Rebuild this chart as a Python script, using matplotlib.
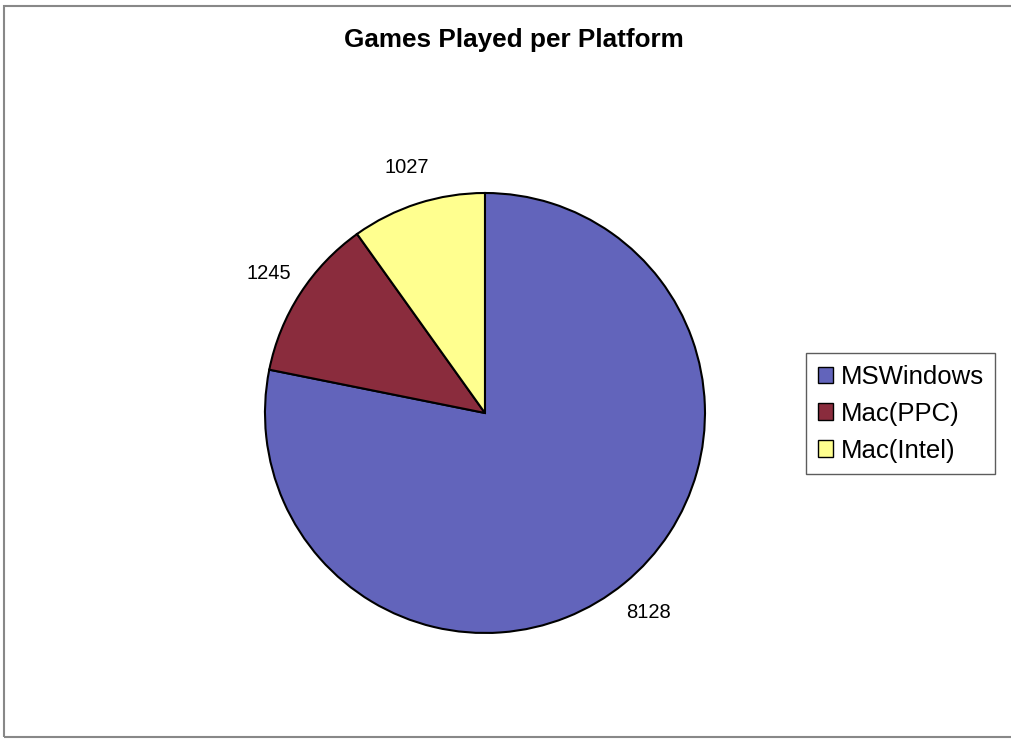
import matplotlib
matplotlib.use("Agg")
import matplotlib.pyplot as plt
from matplotlib.patches import Rectangle

platforms = ["MSWindows", "Mac(PPC)", "Mac(Intel)"]
games = [8128, 1245, 1027]
colors = ["#6264bb", "#8a2c3d", "#ffff8f"]

plt.rcParams["font.family"] = ["Liberation Sans", "DejaVu Sans"]

fig = plt.figure(figsize=(10.11, 7.40), dpi=100)
fig.patches.append(Rectangle((0.004, 0.004), 1.2, 0.988, transform=fig.transFigure,
                             fill=False, edgecolor="#888888", linewidth=1.5))

ax = fig.add_axes([0.4797 - 0.2176, 0.4419 - 0.2973, 0.4352, 0.5946])
wedges, texts = ax.pie(games, colors=colors, startangle=90, counterclock=False,
                       labels=[str(v) for v in games], labeldistance=1.17,
                       wedgeprops=dict(edgecolor="black", linewidth=1.5),
                       textprops=dict(fontsize=14.5))
for t in texts:
    t.set_ha("center")
    t.set_va("center")
    t.set_clip_on(False)
ax.set_xlim(-1, 1)
ax.set_ylim(-1, 1)
ax.set_aspect("equal")

fig.text(514 / 1011, 1 - 40 / 740, "Games Played per Platform", ha="center", va="center",
         fontsize=18.8, fontweight="bold")

leg = fig.legend(wedges, platforms, loc="center", bbox_to_anchor=(0.891, 0.441),
                 fontsize=18.5, frameon=True, fancybox=False, handlelength=0.6,
                 handleheight=0.6, handletextpad=0.3, labelspacing=0.5,
                 borderpad=0.45, borderaxespad=0)
leg.get_frame().set_edgecolor("#333333")
leg.get_frame().set_linewidth(1.0)
for h in leg.legend_handles:
    h.set_linewidth(1.0)

fig.savefig("out.png", dpi=100)
